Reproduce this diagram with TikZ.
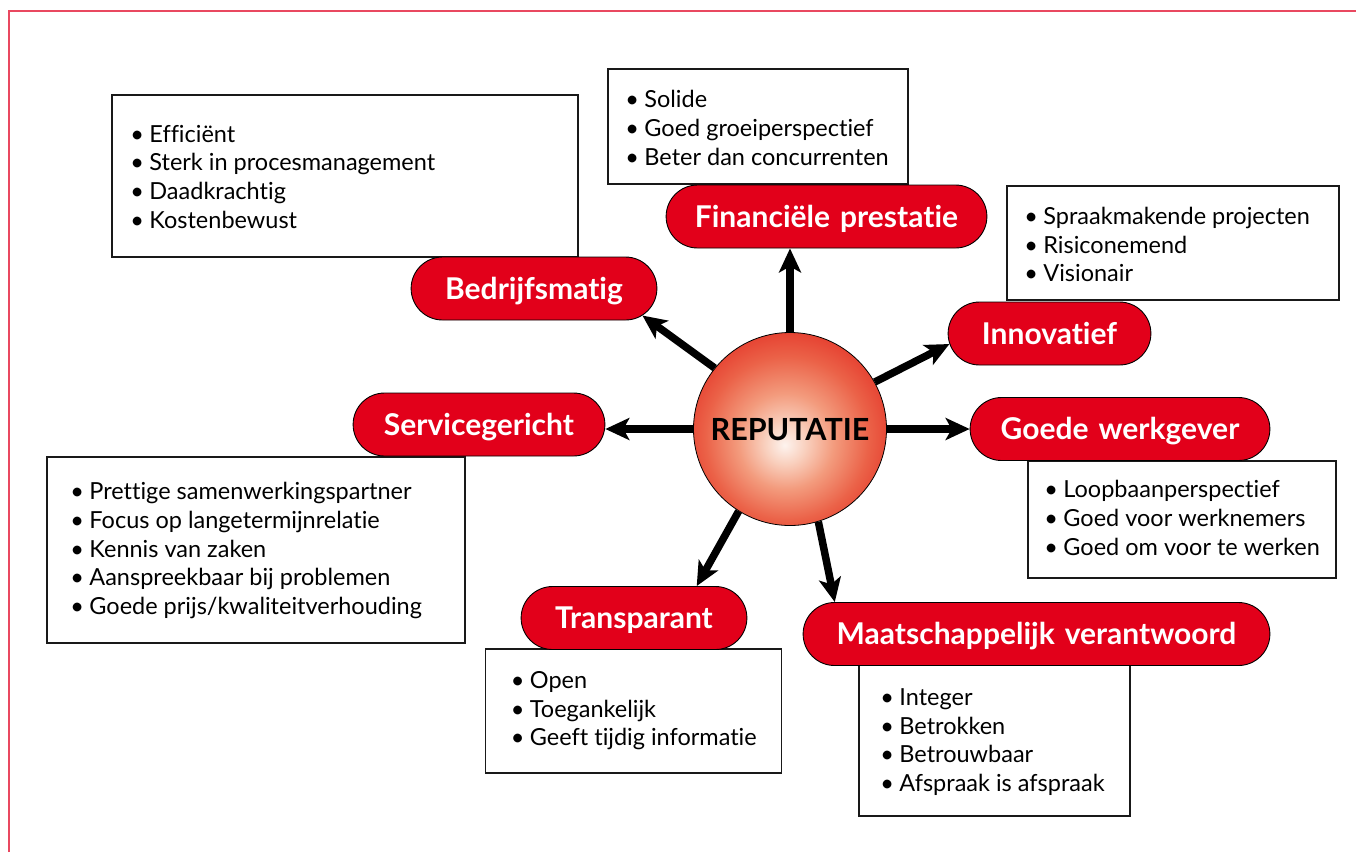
\documentclass[tikz,border=0pt]{standalone}
\usepackage{fontspec}
\setmainfont{Lato}[Ligatures=NoCommon]
\usetikzlibrary{arrows.meta,shapes.misc}
\definecolor{pillred}{RGB}{226,0,26}
\definecolor{framepink}{RGB}{233,72,96}
\definecolor{sphA}{RGB}{253,243,238}
\definecolor{sphB}{RGB}{249,208,190}
\definecolor{sphC}{RGB}{243,155,125}
\definecolor{sphD}{RGB}{235,98,72}
\definecolor{sphE}{RGB}{228,55,42}
\definecolor{sphF}{RGB}{222,30,30}
\pgfdeclareradialshading{sphshade}{\pgfpoint{-1.4bp}{-4.2bp}}{color(0bp)=(sphA); color(5.3bp)=(sphB); color(12.4bp)=(sphC); color(21.2bp)=(sphD); color(29.3bp)=(sphE); color(35.4bp)=(sphF); color(50bp)=(sphF)}
\newcommand\lstr{\rule[-7pt]{0pt}{19pt}}
\newcommand\bul{\lstr\makebox[19pt][l]{•}}
\begin{document}
\begin{tikzpicture}[x=1pt,y=-1pt,
  pill/.style={rounded rectangle, draw=black, line width=0.9pt, fill=pillred, text=white,
    font=\fontsize{30}{32}\selectfont\bfseries, minimum height=63pt, inner xsep=0pt, inner ysep=0pt,
    align=center, text height=21.5pt, text depth=0pt},
  infobox/.style={draw=black!90, line width=1.6pt, fill=white, inner sep=0pt},
  itemlist/.style={inner sep=0pt, align=left, anchor=west, yshift=-4pt, font=\fontsize{23.5}{28.7}\selectfont},
  arr/.style={line width=7.5pt, -{Stealth[length=24pt,width=22pt,inset=6pt]}}]
\useasboundingbox (0,0) rectangle (1356,852);
\draw[framepink, line width=2pt] (9,852) -- (9,11) -- (1356,11);

% info boxes
\node[infobox, minimum width=466pt, minimum height=162pt] (bedrBox) at (345,176) {};
\node[infobox, minimum width=300pt, minimum height=115pt] (finBox) at (758,126.5) {};
\node[infobox, minimum width=332pt, minimum height=114pt] (innovBox) at (1173,243) {};
\node[infobox, minimum width=418pt, minimum height=186pt] (servBox) at (256,550) {};
\node[infobox, minimum width=308pt, minimum height=117pt] (gwBox) at (1182,519.5) {};
\node[infobox, minimum width=296pt, minimum height=124pt] (transBox) at (633.5,711) {};
\node[infobox, minimum width=271pt, minimum height=151pt] (maatBox) at (994.5,740.5) {};

\node[itemlist] (bedrList) at ([xshift=19pt]bedrBox.west) {\bul Efficiënt\\ \bul Sterk in procesmanagement\\ \bul Daadkrachtig\\ \bul Kostenbewust};
\node[itemlist] (finList) at ([xshift=18pt,yshift=-1pt]finBox.west) {\bul Solide\\ \bul Goed groeiperspectief\\ \bul Beter dan concurrenten};
\node[itemlist] (innovList) at ([xshift=18pt,yshift=-1pt]innovBox.west) {\bul Spraakmakende projecten\\ \bul Risiconemend\\ \bul Visionair};
\node[itemlist] (servList) at ([xshift=24pt,yshift=2pt]servBox.west) {\bul Prettige samenwerkingspartner\\ \bul Focus op langetermijnrelatie\\ \bul Kennis van zaken\\ \bul Aanspreekbaar bij problemen\\ \bul Goede prijs/kwaliteitverhouding};
\node[itemlist] (gwList) at ([xshift=17pt,yshift=2pt]gwBox.west) {\bul Loopbaanperspectief\\ \bul Goed voor werknemers\\ \bul Goed om voor te werken};
\node[itemlist] (transList) at ([xshift=26pt,yshift=3pt]transBox.west) {\bul Open\\ \bul Toegankelijk\\ \bul Geeft tijdig informatie};
\node[itemlist] (maatList) at ([xshift=22pt,yshift=1pt]maatBox.west) {\bul Integer\\ \bul Betrokken\\ \bul Betrouwbaar\\ \bul Afspraak is afspraak};

% pills
\node[pill, text width=242pt] (bedr) at (534,288.5) {Bedrijfsmatig};
\node[pill, text width=248pt] (serv) at (479,424.5) {Servicegericht};
\node[pill, text width=317pt] (fin) at (826.5,216.5) {Financiële prestatie};
\node[pill, text width=199pt] (innov) at (1049.5,333.5) {Innovatief};
\node[pill, text width=296pt] (gw) at (1120,429) {Goede werkgever};
\node[pill, text width=222pt] (trans) at (634,618) {Transparant};
\node[pill, text width=463pt] (maat) at (1036.5,634) {Maatschappelijk verantwoord};

% centre
\node[circle, draw=black, line width=0.8pt, minimum size=193pt, inner sep=0pt,
  shade, shading=sphshade, font=\fontsize{30.5}{32}\selectfont\bfseries,
  text height=22pt, text depth=0pt] (sph) at (790,429) {REPUTATIE};

% arrows
\draw[arr] (sph.north) -- (sph.north |- fin.south);
\draw[arr] (sph.141) -- (bedr.-14);
\draw[arr] (sph.west) -- (sph.west -| serv.east);
\draw[arr] (sph.29) -- (innov.186);
\draw[arr] (sph.east) -- (sph.east -| gw.west);
\draw[arr] (sph.238) -- (trans.27);
\draw[arr] (sph.-73) -- (maat.171);
\end{tikzpicture}
\end{document}
